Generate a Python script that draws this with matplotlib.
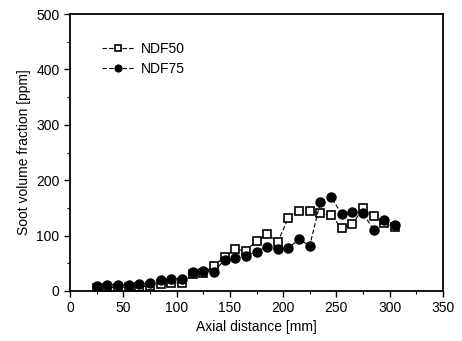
import matplotlib
matplotlib.use("Agg")
import matplotlib.pyplot as plt
from matplotlib.ticker import MultipleLocator

plt.rcParams['font.family'] = ['Liberation Sans', 'DejaVu Sans']

axial = [25, 35, 45, 55, 65, 75, 85, 95, 105, 115, 125, 135, 145, 155, 165,
         175, 185, 195, 205, 215, 225, 235, 245, 255, 265, 275, 285, 295, 305]
ndf50 = [5, 6, 6, 7, 8, 9, 12, 14, 15, 30, 33, 45, 62, 76, 72,
         91, 102, 89, 132, 145, 144, 140, 137, 113, 121, 149, 136, 122, 115]
ndf75 = [9, 11, 11, 11, 12, 14, 19, 22, 22, 34, 37, 35, 56, 59, 63,
         71, 80, 76, 78, 93, 82, 161, 169, 139, 142, 140, 110, 128, 120]

fig = plt.figure(figsize=(4.62, 3.41), dpi=100)
ax = fig.add_axes([70/462, 1-291/341, 373/462, 277/341])

ls = (0, (4, 2))
ax.plot(axial, ndf50, linestyle=ls, color='black', linewidth=0.8,
        marker='s', markersize=5.5, markerfacecolor='white',
        markeredgecolor='black', markeredgewidth=1.2, label='NDF50')
ax.plot(axial, ndf75, linestyle=ls, color='black', linewidth=0.8,
        marker='o', markersize=6.5, markerfacecolor='black',
        markeredgecolor='black', label='NDF75')

ax.set_xlim(0, 350)
ax.set_ylim(0, 500)
ax.xaxis.set_major_locator(MultipleLocator(50))
ax.xaxis.set_minor_locator(MultipleLocator(25))
ax.yaxis.set_major_locator(MultipleLocator(100))
ax.yaxis.set_minor_locator(MultipleLocator(50))
ax.tick_params(which='major', direction='out', length=4, width=1, labelsize=10)
ax.tick_params(which='minor', direction='out', length=2, width=0.8)
for s in ax.spines.values():
    s.set_linewidth(1.3)

ax.set_xlabel('Axial distance [mm]', fontsize=10, labelpad=3)
ax.set_ylabel('Soot volume fraction [ppm]', fontsize=10, labelpad=4)

ax.legend(loc='upper left', bbox_to_anchor=(0.07, 0.92), frameon=False,
          fontsize=10, handlelength=2.4, handletextpad=0.4, markerscale=0.75,
          labelspacing=0.45, borderaxespad=0)

fig.savefig('out.png', dpi=100)
